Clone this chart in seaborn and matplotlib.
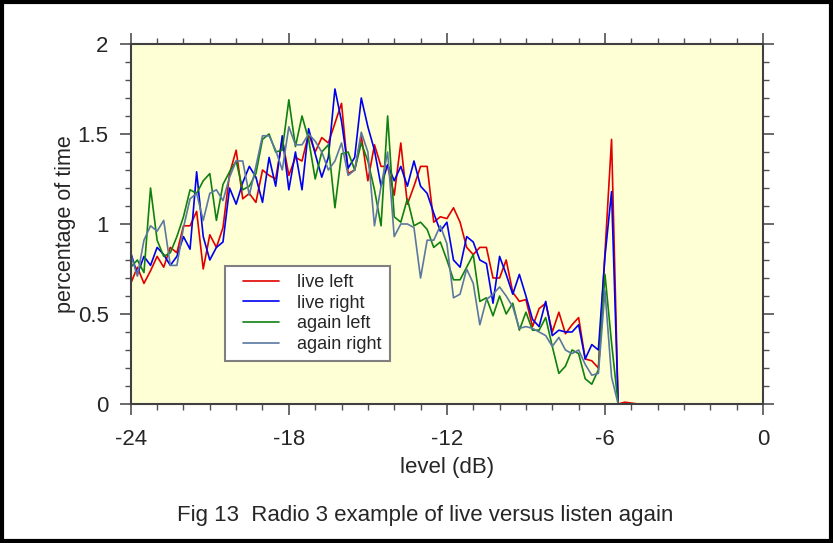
import numpy as np
import pandas as pd
import matplotlib.pyplot as plt
import seaborn as sns
from matplotlib.ticker import MultipleLocator
from matplotlib.lines import Line2D
from matplotlib.legend_handler import HandlerLine2D

# niveles en dB, paso de 0.25
niveles = np.arange(-24, 0.001, 0.25)

live_left = [0.67, 0.76, 0.67, 0.74, 0.82, 0.76, 0.87, 0.84, 0.99, 0.99, 1.07, 0.75, 0.94, 0.87, 0.98, 1.28, 1.41,
             1.14, 1.17, 1.12, 1.30, 1.27, 1.25, 1.47, 1.27, 1.37, 1.35, 1.50, 1.40, 1.48, 1.45, 1.56, 1.67,
             1.28, 1.30, 1.49, 1.24, 1.44, 1.32, 1.32, 1.16, 1.45, 1.11, 1.21, 1.32, 1.32, 1.01, 1.04, 1.03,
             1.09, 1.01, 0.87, 0.83, 0.87, 0.87, 0.70, 0.70, 0.80, 0.62, 0.57, 0.58, 0.43, 0.53, 0.56, 0.40,
             0.51, 0.39, 0.44, 0.48, 0.25, 0.24, 0.20, 0.84, 1.47,
             0.0, 0.01, 0.005] + [0.0] * 20

live_right = [0.84, 0.72, 0.82, 0.77, 0.87, 0.83, 0.77, 0.82, 0.93, 0.86, 1.29, 0.93, 0.80, 0.87, 0.90, 1.20, 1.11,
              1.23, 1.32, 1.26, 1.12, 1.37, 1.21, 1.49, 1.19, 1.40, 1.19, 1.53, 1.39, 1.26, 1.37, 1.75, 1.57,
              1.31, 1.37, 1.70, 1.54, 1.41, 1.21, 1.33, 1.24, 1.32, 1.21, 1.35, 1.21, 1.17, 1.06, 0.96, 1.01,
              0.80, 0.76, 0.93, 0.90, 0.80, 0.78, 0.56, 0.82, 0.72, 0.61, 0.72, 0.60, 0.47, 0.43, 0.57, 0.38,
              0.41, 0.40, 0.40, 0.44, 0.25, 0.33, 0.30, 0.82, 1.18] + [0.0] * 23

again_left = [0.76, 0.80, 0.73, 1.20, 0.91, 0.82, 0.84, 0.93, 1.04, 1.19, 1.17, 1.24, 1.28, 1.02, 1.22, 1.29, 1.35,
              1.19, 1.21, 1.28, 1.47, 1.50, 1.40, 1.41, 1.69, 1.43, 1.60, 1.47, 1.25, 1.40, 1.44, 1.09, 1.39,
              1.40, 1.30, 1.45, 1.35, 1.19, 0.99, 1.60, 1.04, 1.01, 1.14, 0.99, 1.01, 0.97, 0.87, 0.90, 0.80,
              0.69, 0.69, 0.76, 0.83, 0.57, 0.59, 0.49, 0.60, 0.50, 0.56, 0.41, 0.51, 0.41, 0.41, 0.48, 0.32,
              0.17, 0.21, 0.30, 0.28, 0.14, 0.11, 0.19, 0.72, 0.34] + [0.0] * 23

again_right = [0.83, 0.71, 0.91, 0.99, 0.96, 1.02, 0.77, 0.77, 0.98, 1.14, 1.17, 1.02, 1.17, 1.19, 1.13, 1.26, 1.35,
               1.35, 1.16, 1.32, 1.49, 1.49, 1.41, 1.30, 1.54, 1.44, 1.44, 1.50, 1.46, 1.40, 1.30, 1.35, 1.45,
               1.27, 1.30, 1.51, 1.40, 0.99, 1.21, 1.40, 0.93, 1.00, 1.00, 0.98, 0.70, 0.91, 0.91, 0.99, 0.89,
               0.59, 0.61, 0.75, 0.67, 0.44, 0.58, 0.61, 0.65, 0.60, 0.54, 0.42, 0.43, 0.42, 0.40, 0.38, 0.32,
               0.37, 0.30, 0.28, 0.30, 0.22, 0.16, 0.17, 0.63, 0.15] + [0.0] * 23

series = {
    "live left": live_left,
    "live right": live_right,
    "again left": again_left,
    "again right": again_right,
}
colores = ["#e00000", "#0000f0", "#108010", "#5a78a0"]

# tabla larga para seaborn
data = pd.concat(
    [pd.DataFrame({"nivel": niveles, "pct": v, "serie": k}) for k, v in series.items()],
    ignore_index=True,
)

sns.set_style("ticks")
plt.rcParams["font.family"] = ["Liberation Sans", "DejaVu Sans"]
plt.rcParams["axes.unicode_minus"] = False

fig = plt.figure(figsize=(8.33, 5.43), dpi=100)
ax = fig.add_axes([0.157, 0.256, 0.759, 0.663])

sns.lineplot(data=data, x="nivel", y="pct", hue="serie", palette=colores,
             linewidth=1.2, ax=ax, legend=True)

ax.set_facecolor("#ffffd6")
ax.set_xlim(-24, 0)
ax.set_ylim(0, 2)
ax.xaxis.set_major_locator(MultipleLocator(6))
ax.xaxis.set_minor_locator(MultipleLocator(1))
ax.yaxis.set_minor_locator(MultipleLocator(0.1))
ax.set_yticks([0, 0.5, 1, 1.5, 2])
ax.set_yticklabels(["0", "0.5", "1", "1.5", "2"])

for s in ax.spines.values():
    s.set_visible(True)
    s.set_color("#404040")
    s.set_linewidth(1.5)

ax.tick_params(which="both", direction="out", top=True, right=True,
               color="#505050", labelsize=16)
ax.tick_params(which="major", length=8, width=1.2)
ax.tick_params(which="minor", length=4.3, width=1.0)
ax.tick_params(axis="y", which="major", pad=8)
ax.tick_params(axis="x", which="major", pad=10)

ax.set_xlabel("level (dB)", fontsize=16, labelpad=5)
ax.set_ylabel("percentage of time", fontsize=15.5, labelpad=1)

# leyenda: el trazo empieza un poco más adentro del marco
leg = ax.legend(loc="lower left", bbox_to_anchor=(0.149, 0.119), borderaxespad=0,
                fontsize=13, handlelength=2.55, handletextpad=1.0,
                handler_map={Line2D: HandlerLine2D(xpad=0.55)},
                frameon=True, fancybox=False, framealpha=1,
                edgecolor="#808080", borderpad=0.45, labelspacing=0.2)
leg.get_frame().set_linewidth(1.5)
for linea in leg.get_lines():
    linea.set_linewidth(1.2)

fig.text(0.51, 0.05, "Fig 13  Radio 3 example of live versus listen again",
         ha="center", va="center", fontsize=16)

# marco negro alrededor de la figura
fig.patches.append(plt.Rectangle((0.002, 0.003), 0.996, 0.994, transform=fig.transFigure,
                                 fill=False, edgecolor="black", linewidth=3))

fig.savefig("out.png", dpi=100)
